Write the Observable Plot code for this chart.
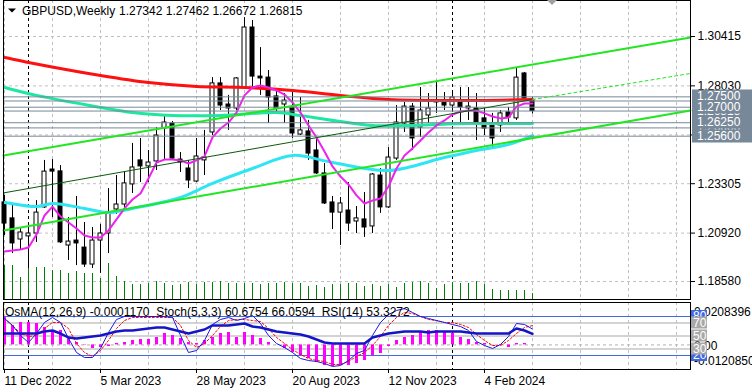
<!DOCTYPE html>
<html><head><meta charset="utf-8">
<script src="https://cdn.jsdelivr.net/npm/d3@7"></script>
<script src="https://cdn.jsdelivr.net/npm/@observablehq/plot@0.6"></script>
<style>
html,body{margin:0;padding:0;background:#fff;}
#wrap{position:relative;width:752px;height:392px;overflow:hidden;}
#wrap svg{position:absolute;left:0;}
</style></head><body><div id="wrap"></div>
<script>
// ---------- DATA (GBPUSD weekly, week index 0 = 11 Dec 2022) ----------
const symbolTitle = "GBPUSD,Weekly";
const lastQuote = "1.27342 1.27462 1.26672 1.26815";
const dateLabels = ["11 Dec 2022","5 Mar 2023","28 May 2023","20 Aug 2023","12 Nov 2023","4 Feb 2024"];
const dateLabelIdx = [0,12,24,36,48,60];
const gridIdx = [0,6,12,18,24,30,36,42,48,54,60,66,72,78,84];
const separatorIdx = [3,56];
const priceTicks = [1.30415,1.28030,1.25660,1.23305,1.20920,1.18580];

const open  = [1.2240,1.2163,1.2061,1.2076,1.2090,1.2216,1.2399,1.2390,1.2032,1.2056,1.2022,1.1940,1.2056,1.2090,1.2206,1.2230,1.2327,1.2443,1.2414,1.2438,1.2597,1.2621,1.2447,1.2404,1.2341,1.2443,1.2578,1.2815,1.2713,1.2694,1.2795,1.3085,1.2848,1.2843,1.2752,1.2713,1.2699,1.2568,1.2583,1.2491,1.2380,1.2240,1.2191,1.2201,1.2148,1.2158,1.2124,1.2370,1.2216,1.2452,1.2621,1.2703,1.2602,1.2660,1.2723,1.2732,1.2708,1.2732,1.2694,1.2694,1.2646,1.2621,1.2612,1.2675,1.2646,1.2863,1.27342];
const high  = [1.2274,1.2225,1.2119,1.2124,1.2249,1.2443,1.2447,1.2418,1.2167,1.2269,1.2143,1.2119,1.2134,1.2307,1.2370,1.2389,1.2525,1.2549,1.2491,1.2602,1.2660,1.2631,1.2481,1.2443,1.2549,1.2588,1.2843,1.2843,1.2757,1.2843,1.3133,1.3119,1.2988,1.2877,1.2781,1.2766,1.2781,1.2747,1.2636,1.2554,1.2428,1.2269,1.2264,1.2336,1.2220,1.2288,1.2380,1.2404,1.2505,1.2708,1.2723,1.2718,1.2795,1.2766,1.2819,1.2771,1.2771,1.2795,1.2795,1.2766,1.2694,1.2670,1.2684,1.2699,1.2887,1.2868,1.27462];
const low   = [1.2080,1.1993,1.2008,1.1921,1.2047,1.2211,1.2167,1.2042,1.1960,1.1935,1.1926,1.1921,1.1897,1.1993,1.2182,1.2216,1.2283,1.2336,1.2336,1.2394,1.2443,1.2447,1.2385,1.2307,1.2336,1.2370,1.2563,1.2684,1.2588,1.2684,1.2790,1.2795,1.2757,1.2621,1.2670,1.2621,1.2549,1.2563,1.2443,1.2375,1.2230,1.2109,1.2032,1.2100,1.2090,1.2071,1.2090,1.2187,1.2211,1.2443,1.2578,1.2491,1.2554,1.2621,1.2670,1.2684,1.2675,1.2612,1.2636,1.2539,1.2563,1.2505,1.2578,1.2621,1.2636,1.2732,1.26672];
const close = [1.2138,1.2042,1.2095,1.2090,1.2191,1.2389,1.2389,1.2047,1.2051,1.2042,1.1940,1.2056,1.2090,1.2191,1.2230,1.2332,1.2409,1.2414,1.2433,1.2563,1.2626,1.2452,1.2433,1.2346,1.2462,1.2457,1.2815,1.2708,1.2694,1.2839,1.3085,1.2848,1.2839,1.2747,1.2694,1.2732,1.2573,1.2588,1.2476,1.2380,1.2235,1.2191,1.2235,1.2138,1.2163,1.2119,1.2375,1.2216,1.2457,1.2626,1.2703,1.2549,1.2684,1.2694,1.2732,1.2708,1.2747,1.2699,1.2703,1.2626,1.2597,1.2549,1.2670,1.2650,1.2843,1.2742,1.26815];
// tick volume (thousands)
const volume = [34,34,22,32,32,32,29,29,26,28,26,26,21,36,23,18,15,15,16,18,16,14,15,17,15,17,17,18,16,16,16,16,15,16,16,17,16,16,13,14,12,15,15,16,16,13,15,13,15,12,16,17,18,16,11,15,17,16,16,18,15,10,9,9,9,9,6];

// moving averages (read at the marked week indices)
const maRedIdx  = [-1,0,3,12,18,24,30,36,42,48,56,66];
const maRedVal  = [1.2945,1.2940,1.2916,1.2853,1.2819,1.2800,1.2795,1.2781,1.2757,1.2737,1.2732,1.2737];
const maTealIdx = [-1,0,4,12,16,21,27,34,37,42,46,51,58,66];
const maTealVal = [1.2805,1.2795,1.2757,1.2699,1.2674,1.2660,1.2660,1.2674,1.2660,1.2631,1.2612,1.2612,1.2621,1.2621];
const maCyanIdx = [-1,0,4,6,10,13,16,22,26,31,36,41,48,55,59,63,66];
const maCyanVal = [1.2245,1.2240,1.2220,1.2235,1.2211,1.2191,1.2211,1.2264,1.2332,1.2404,1.2467,1.2433,1.2394,1.2457,1.2491,1.2520,1.2563];
const maFast = [1.2003,1.2008,1.2013,1.2022,1.2085,1.2177,1.2220,1.2172,1.2143,1.2114,1.2080,1.2071,1.2071,1.2105,1.2158,1.2211,1.2254,1.2283,1.2356,1.2433,1.2447,1.2447,1.2443,1.2428,1.2443,1.2462,1.2554,1.2597,1.2626,1.2674,1.2757,1.2795,1.2805,1.2795,1.2781,1.2761,1.2723,1.2674,1.2612,1.2554,1.2486,1.2414,1.2365,1.2327,1.2274,1.2235,1.2249,1.2259,1.2317,1.2404,1.2467,1.2501,1.2539,1.2578,1.2612,1.2636,1.2665,1.2679,1.2684,1.2684,1.2670,1.2655,1.2646,1.2650,1.2703,1.2718,1.2718];

// channel (week index, price)
const chanUpper  = [[-0.125,1.2467],[85.75,1.3037]];
const chanLower  = [[-0.125,1.2105],[85.75,1.2684]];
const chanMid    = [[-0.125,1.2286],[66,1.2737]];
const chanMidExt = [[66,1.2737],[85.75,1.2863]];
// horizontal levels (incl. bid line)
const levels = [1.2750,1.2730,1.2700,1.26815,1.2625,1.2600,1.2560];
const levelLabels = [1.26815,1.2750,1.2700,1.2600,1.2625,1.2560];

// indicators
const osma = [0.01346,0.00953,0.01101,0.01101,0.01052,0.00855,0.00708,0.00708,0.00364,0.00118,0.0002,-0.00177,-0.00128,-0.00079,0.00069,0.00118,0.00216,0.00265,0.00265,0.00364,0.0056,0.00462,0.00314,0.00118,0.00069,0.00216,0.00364,0.0056,0.00609,0.00364,0.00609,0.00462,0.00314,0.00118,-0.00005,-0.00177,-0.00373,-0.00521,-0.00668,-0.00865,-0.01012,-0.01061,-0.01012,-0.01012,-0.00914,-0.00767,-0.00521,-0.00423,-0.00079,0.00216,0.00364,0.00462,0.00609,0.00708,0.00708,0.00609,0.0056,0.00364,0.00265,0.00118,0.00069,-0.0001,-0.0003,-0.00128,0.00069,0.00069,-0.000117];
const stochMain = [76.9,66.2,50.8,40.0,53.8,70.8,78.5,70.8,46.2,24.6,16.9,16.9,30.8,55.4,75.4,80,80,80,80,80,80,78.5,50.8,24.6,27.7,43.1,67.7,75.4,78.5,73.8,76.9,81.5,69.2,50.8,38.5,32.3,24.6,15.4,12.3,10.8,7.7,3.1,4.6,12.3,23.1,27.7,50.8,70.8,83.1,89.2,92.3,86.2,80,76.9,73.8,70.8,67.7,64.6,58.5,41.5,35.4,30.8,36.9,49.2,69.2,67.7,60.68];
const stochSignal = [76.9,66.2,53.8,49.2,50.8,61.5,70.8,70.8,61.5,38.5,24.6,18.5,27.7,43.1,61.5,73.8,78.5,78.5,78.5,78.5,78.5,78.5,66.2,43.1,32.3,38.5,50.8,64.6,73.8,75.4,75.4,73.8,72.3,61.5,47.7,38.5,29.2,21.5,15.4,12.3,10.8,6.2,6.2,10.8,18.5,24.6,35.4,49.2,66.2,78.5,86.2,84.6,80,75.4,73.8,70.8,70.8,67.7,63.1,52.3,43.1,35.4,35.4,43.1,53.8,63.1,66.06];
const rsi = [53.8,53.8,53.8,53.8,53.8,56.9,58.5,53.8,47.7,46.2,47.7,49.2,50.8,53.8,56.9,58.5,58.5,60.0,61.5,63.1,63.1,60.0,56.9,53.8,56.9,60.0,66.2,66.2,66.2,67.7,69.2,64.6,63.1,60.0,56.9,55.4,53.8,52.3,49.2,44.6,40.0,38.5,38.5,38.5,38.5,38.5,47.7,50.8,53.8,55.4,56.9,56.9,56.9,55.4,56.9,56.9,56.9,56.9,55.4,53.8,53.8,53.8,53.8,53.8,61.5,58.5,53.33];
const indHeader = "OsMA(12,26,9) -0.0001170  Stoch(5,3,3) 60.6754 66.0594  RSI(14) 53.3272";
const osmaRange = [-0.012085, 0.0208396];
const stochLevelsBlue = [80,20];
const rsiLevelsGray = [70,50,30];

// ---------- BUILD ----------
const FONT = "'Liberation Sans', Arial, sans-serif";
const xDomain = [-0.125, 85.75];
const yBottom = 1.17712, yTop = 1.32154;
const pxPrice = (yTop - yBottom) / 299;

const candles = open.map((o, i) => ({i, o, h: high[i], l: low[i], c: close[i]}));
const vols = volume.map((v, i) => ({i, v}));
const pts = (idx, val) => idx.map((d, k) => ({i: d, p: val[k]}));
const pairs = a => a.map(([i, p]) => ({i, p}));

const dash = {stroke: "#c0c0c0", strokeOpacity: 1, strokeDasharray: "3,3"};
const wrap = document.getElementById("wrap");

const main = Plot.plot({
  width: 752, height: 300,
  marginLeft: 3, marginRight: 62, marginTop: 0, marginBottom: 1,
  style: {fontFamily: FONT, fontSize: "12px", background: "white", color: "black"},
  x: {domain: xDomain, axis: null},
  y: {domain: [yBottom, yTop], axis: null},
  marks: [
    Plot.gridY(priceTicks, dash),
    Plot.gridX(gridIdx, dash),
    Plot.ruleX(separatorIdx, {stroke: "black", strokeDasharray: "3,3"}),
    Plot.ruleX(vols, {x: "i", y1: () => yBottom, y2: d => yBottom + d.v * pxPrice, stroke: "#008000"}),
    Plot.ruleX(candles, {x: "i", y1: "l", y2: "h", stroke: "black"}),
    Plot.rect(candles, {x1: d => d.i - 0.25, x2: d => d.i + 0.25,
      y1: d => Math.min(d.o, d.c), y2: d => Math.max(d.o, d.c),
      fill: d => d.c >= d.o ? "white" : "black", stroke: "black"}),
    Plot.line(pts(maRedIdx, maRedVal), {x: "i", y: "p", stroke: "#ff1010", strokeWidth: 3, curve: "catmull-rom", clip: true}),
    Plot.line(pts(maTealIdx, maTealVal), {x: "i", y: "p", stroke: "#1fe6a0", strokeWidth: 3, curve: "catmull-rom", clip: true}),
    Plot.line(pts(maCyanIdx, maCyanVal), {x: "i", y: "p", stroke: "#2ee6f2", strokeWidth: 3, curve: "catmull-rom", clip: true}),
    Plot.line(maFast.map((p, i) => ({i, p})), {x: "i", y: "p", stroke: "#ee22ee", strokeWidth: 2}),
    Plot.ruleY(levels, {stroke: "#778899"}),
    Plot.line(pairs(chanUpper), {x: "i", y: "p", stroke: "#22e622", strokeWidth: 2}),
    Plot.line(pairs(chanLower), {x: "i", y: "p", stroke: "#22e622", strokeWidth: 2}),
    Plot.line(pairs(chanMid), {x: "i", y: "p", stroke: "#0a5a0a", strokeWidth: 1}),
    Plot.line(pairs(chanMidExt), {x: "i", y: "p", stroke: "#22e622", strokeWidth: 1, strokeDasharray: "3,3"}),
    Plot.axisY(priceTicks, {anchor: "right", tickSize: 4, tickPadding: 3, tickFormat: d => d.toFixed(5), label: null}),
    Plot.frame({stroke: "black"})
  ]
});
main.style.top = "0px";
wrap.appendChild(main);

// level label boxes + header (positions via the plot's own y scale)
{
  const svg = d3.select(main);
  const ys = main.scale("y");
  const g = svg.append("g").attr("font-family", FONT).attr("font-size", 12).attr("text-anchor", "start");
  levelLabels.forEach(v => {
    const y = Math.round(ys.apply(v));
    g.append("rect").attr("x", 692).attr("y", y - 6.5).attr("width", 60).attr("height", 13).attr("fill", "#778899");
    g.append("text").attr("x", 697).attr("y", y).attr("dy", "0.35em").attr("fill", "white").text(v.toFixed(5));
  });
  g.append("path").attr("d", "M8,8.5 L16,8.5 L12,12.5 Z").attr("fill", "black");
  g.append("text").attr("x", 22).attr("y", 15).attr("fill", "black").text(symbolTitle);
  g.append("text").attr("x", 119).attr("y", 15).attr("fill", "black").text(lastQuote);
  g.append("path").attr("d", "M547,0 L557,0 L552,5 Z").attr("fill", "#a0a0a0");
}

const osmaToY = d3.scaleLinear(osmaRange, [-1.54, 101.54]);
const ind = Plot.plot({
  width: 752, height: 90,
  marginLeft: 3, marginRight: 62, marginTop: 0, marginBottom: 23,
  style: {fontFamily: FONT, fontSize: "12px", background: "white", color: "black"},
  x: {domain: xDomain},
  y: {domain: [-1.54, 101.54], axis: null},
  marks: [
    Plot.gridX(gridIdx, dash),
    Plot.ruleX(separatorIdx, {stroke: "black", strokeDasharray: "3,3"}),
    Plot.ruleY(stochLevelsBlue, {stroke: "#4169e1"}),
    Plot.ruleY(rsiLevelsGray, {stroke: "#a8a8a8"}),
    Plot.ruleY([osmaToY(0)], {stroke: "#b0b0b0", strokeDasharray: "3,3"}),
    Plot.ruleX(osma.map((v, i) => ({i, v})), {x: "i", y1: () => osmaToY(0), y2: d => osmaToY(d.v), stroke: "#ff00ff", strokeWidth: 3}),
    Plot.line(stochSignal.map((v, i) => ({i, v})), {x: "i", y: "v", stroke: "#ff0000", strokeWidth: 1, strokeDasharray: "2,2"}),
    Plot.line(stochMain.map((v, i) => ({i, v})), {x: "i", y: "v", stroke: "#1a1ae6", strokeWidth: 1}),
    Plot.line(rsi.map((v, i) => ({i, v})), {x: "i", y: "v", stroke: "#1414c8", strokeWidth: 2.5}),
    Plot.axisX(dateLabelIdx, {anchor: "bottom", tickSize: 4, tickPadding: 3, textAnchor: "start",
      tickFormat: d => dateLabels[dateLabelIdx.indexOf(d)], label: null}),
    Plot.frame({stroke: "black"})
  ]
});
ind.style.top = "302px";
wrap.appendChild(ind);

{
  const svg = d3.select(ind);
  const ys = ind.scale("y");
  const g = svg.append("g").attr("font-family", FONT).attr("font-size", 12).attr("text-anchor", "start");
  g.append("text").attr("x", 5).attr("y", 14).attr("fill", "black").style("white-space", "pre").text(indHeader);
  const yMax = ys.apply(osmaToY(osmaRange[1])) + 10;
  const yZero = ys.apply(osmaToY(0)) + 1.5;
  const yMin = ys.apply(osmaToY(osmaRange[0])) - 8;
  [[yMax, osmaRange[1].toFixed(7)], [yZero, "0.00"], [yMin, osmaRange[0].toFixed(7)]].forEach(([y, t]) => {
    g.append("text").attr("x", 694).attr("y", y).attr("dy", "0.35em").attr("fill", "black").text(t);
  });
  const box = (v, col) => {
    const y = ys.apply(v);
    g.append("rect").attr("x", 691).attr("y", y - 6).attr("width", 16).attr("height", 12).attr("fill", col);
    g.append("text").attr("x", 693).attr("y", y).attr("dy", "0.35em").attr("fill", "white").text(String(v));
  };
  stochLevelsBlue.forEach(v => box(v, "#4169e1"));
  rsiLevelsGray.forEach(v => box(v, "#a8a8a8"));
}
</script></body></html>
